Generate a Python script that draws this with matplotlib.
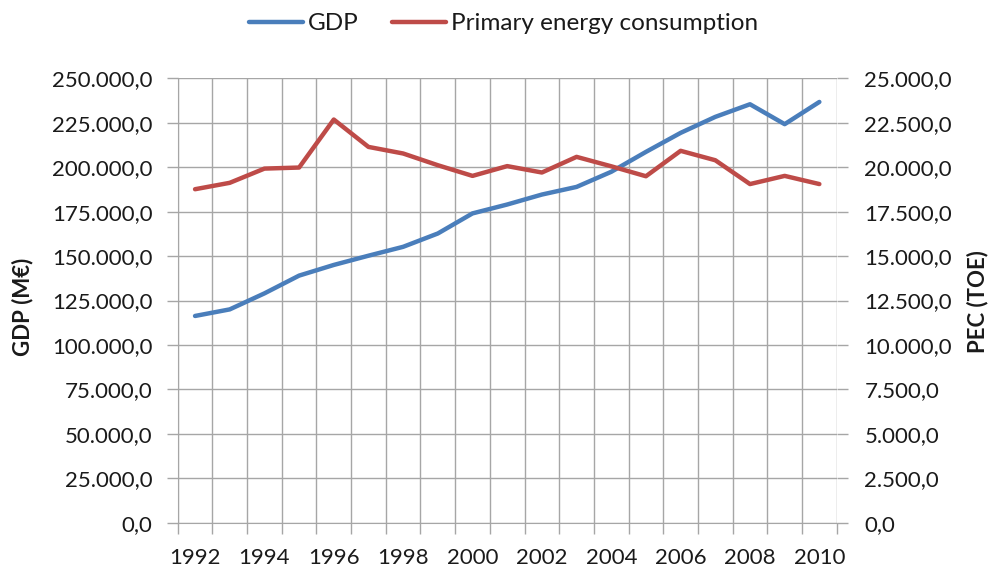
import matplotlib
matplotlib.use("Agg")
import matplotlib.pyplot as plt
from matplotlib.ticker import FuncFormatter, MultipleLocator, FixedLocator

years = list(range(1992, 2011))
gdp = [116300, 120000, 129000, 139000, 145000, 150200, 155200, 162700, 174000, 179000,
       184600, 188900, 197400, 208600, 219300, 228300, 235400, 224200, 236700]
pec = [18760, 19120, 19920, 19980, 22680, 21140, 20770, 20110, 19510, 20060,
       19700, 20580, 20050, 19490, 20920, 20390, 19050, 19510, 19050]

plt.rcParams['font.family'] = ['Lato', 'DejaVu Sans']
grid_col = '#a6a6a6'
txt_col = '#1a1a1a'
blue = '#4a7ebb'
red = '#be4b48'


def euro_fmt(v, pos):
    s = f"{v:,.1f}"
    return s.replace(',', 'X').replace('.', ',').replace('X', '.')


fig = plt.figure(figsize=(9.95, 5.68), dpi=100)
ax = fig.add_axes([177.7 / 995, 1 - 522.7 / 568, 659 / 995, 444.4 / 568])
ax2 = ax.twinx()

x = list(range(len(years)))
l1, = ax.plot(x, gdp, color=blue, lw=3.2, solid_capstyle='round', label='GDP', zorder=3)
l2, = ax2.plot(x, pec, color=red, lw=3.2, solid_capstyle='round',
               label='Primary energy consumption', zorder=3)

ax.set_xlim(-0.5, len(years) - 0.5)
ax.set_ylim(0, 250000)
ax2.set_ylim(0, 25000)
ax.yaxis.set_major_locator(MultipleLocator(25000))
ax2.yaxis.set_major_locator(MultipleLocator(2500))
ax.yaxis.set_major_formatter(FuncFormatter(euro_fmt))
ax2.yaxis.set_major_formatter(FuncFormatter(euro_fmt))

# category axis: labels in the middle, grid at the boundaries
ax.xaxis.set_major_locator(FixedLocator(x[::2]))
ax.set_xticklabels([str(y) for y in years[::2]])
ax.xaxis.set_minor_locator(FixedLocator([i - 0.5 for i in range(len(years) + 1)]))
ax.tick_params(axis='x', which='major', length=0, pad=18, labelsize=16, labelcolor=txt_col)
ax.tick_params(axis='x', which='minor', length=8, width=1, color=grid_col)
ax.tick_params(axis='y', length=8, width=1, color=grid_col, pad=10, labelsize=16,
               labelcolor=txt_col)
ax2.tick_params(axis='y', length=8, width=1, color=grid_col, pad=12, labelsize=16,
                labelcolor=txt_col)

ax.grid(True, which='minor', axis='x', color=grid_col, lw=1)
ax.grid(True, which='major', axis='y', color=grid_col, lw=1)
ax.set_axisbelow(True)

for a in (ax, ax2):
    for side in ('top', 'right', 'left', 'bottom'):
        a.spines[side].set_visible(False)
ax.spines['left'].set_visible(True)
ax.spines['left'].set_color(grid_col)
ax.spines['bottom'].set_visible(True)
ax.spines['bottom'].set_color(grid_col)

ax.set_ylabel('GDP (M€)', fontsize=16, fontweight='bold', color=txt_col, va='center')
ax.yaxis.set_label_coords((23 - 177.7) / 659, (522.7 - 307) / 444.4)
ax2.set_ylabel('PEC (TOE)', fontsize=16, fontweight='bold', color=txt_col,
               rotation=90, va='center')
ax2.yaxis.set_label_coords((978 - 177.7) / 659, (522.7 - 302) / 444.4)

fig.legend(handles=[l1, l2], loc='center', bbox_to_anchor=(0.506, 0.958), ncol=2,
           frameon=False, fontsize=17.5, handlelength=2.2, handletextpad=0.2,
           columnspacing=1.4, labelcolor=txt_col)

fig.savefig('out.png', dpi=100)
